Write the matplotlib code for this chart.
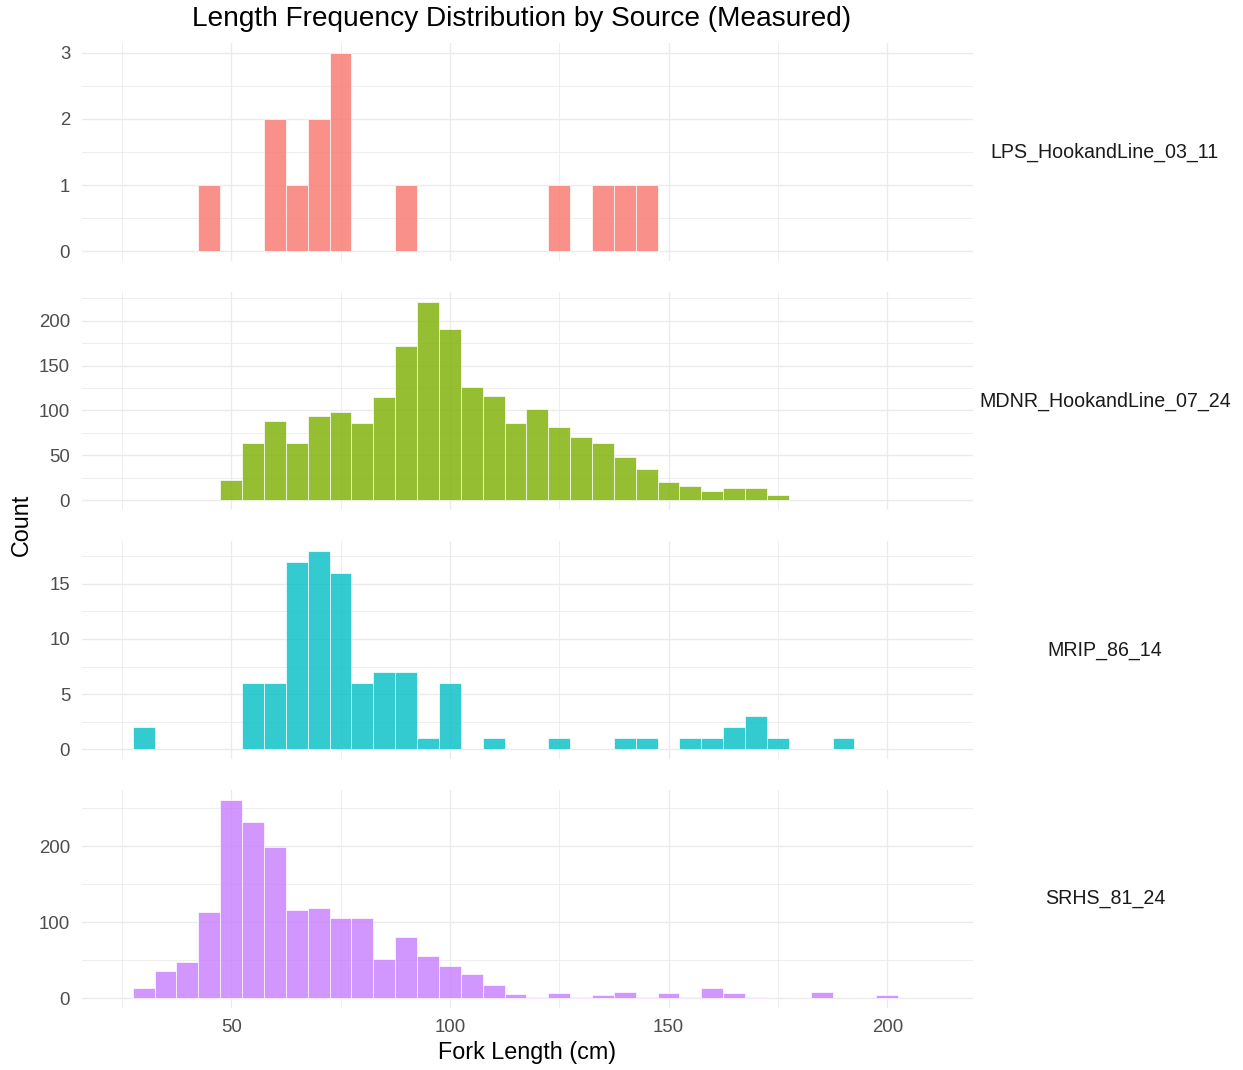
import numpy as np
import matplotlib
matplotlib.use("Agg")
import matplotlib.pyplot as plt
from matplotlib.ticker import MultipleLocator

plt.rcParams['font.family'] = ['Liberation Sans', 'DejaVu Sans']

# 5 cm length bins (bin centres) and fish counts per source
sources = ["LPS_HookandLine_03_11", "MDNR_HookandLine_07_24", "MRIP_86_14", "SRHS_81_24"]

lps_bins = [45, 60, 65, 70, 75, 90, 125, 135, 140, 145]
lps_counts = [1, 2, 1, 2, 3, 1, 1, 1, 1, 1]

mdnr_bins = [50, 55, 60, 65, 70, 75, 80, 85, 90, 95, 100, 105, 110, 115, 120,
             125, 130, 135, 140, 145, 150, 155, 160, 165, 170, 175]
mdnr_counts = [22, 64, 88, 64, 94, 98, 86, 115, 172, 221, 191, 126, 116, 86, 102,
               81, 70, 64, 48, 35, 20, 16, 10, 13, 13, 6]

mrip_bins = [30, 55, 60, 65, 70, 75, 80, 85, 90, 95, 100, 110, 125, 140, 145,
             155, 160, 165, 170, 175, 190]
mrip_counts = [2, 6, 6, 17, 18, 16, 6, 7, 7, 1, 6, 1, 1, 1, 1,
               1, 1, 2, 3, 1, 1]

srhs_bins = [30, 35, 40, 45, 50, 55, 60, 65, 70, 75, 80, 85, 90, 95, 100, 105,
             110, 115, 120, 125, 130, 135, 140, 145, 150, 155, 160, 165, 170,
             185, 200]
srhs_counts = [13, 36, 48, 113, 261, 232, 199, 116, 119, 106, 106, 52, 81, 55, 42, 32,
               17, 5, 2, 7, 2, 4, 8, 2, 7, 2, 13, 7, 2, 8, 4]

bins = [lps_bins, mdnr_bins, mrip_bins, srhs_bins]
counts = [lps_counts, mdnr_counts, mrip_counts, srhs_counts]
colors = ["#F8766D", "#7CAE00", "#00BFC4", "#C77CFF"]
y_major = [1, 50, 5, 100]
bin_width = 5

fig = plt.figure(figsize=(12.43, 10.70), dpi=100)
W, H = 1243, 1070
left, right = 82, 973
panel_h = 218
tops = [43, 292, 541, 790]

grid_col = "#EBEBEB"
for i, src in enumerate(sources):
    top = tops[i]
    ax = fig.add_axes([left / W, 1 - (top + panel_h) / H, (right - left) / W, panel_h / H])
    ax.bar(bins[i], counts[i], width=bin_width, color=colors[i], alpha=0.8,
           edgecolor="white", linewidth=0.6, zorder=3)

    ymax = max(counts[i])
    ax.set_ylim(-0.05 * ymax, 1.05 * ymax)
    ax.set_xlim(15.9, 219.6)

    ax.yaxis.set_major_locator(MultipleLocator(y_major[i]))
    ax.yaxis.set_minor_locator(MultipleLocator(y_major[i] / 2))
    ax.xaxis.set_major_locator(MultipleLocator(50))
    ax.xaxis.set_minor_locator(MultipleLocator(25))

    ax.grid(which="major", color=grid_col, linewidth=1.0, zorder=0)
    ax.grid(which="minor", color=grid_col, linewidth=0.6, zorder=0)
    ax.set_axisbelow(True)
    for sp in ax.spines.values():
        sp.set_visible(False)

    ax.tick_params(which="both", length=0)
    ax.tick_params(axis="y", labelsize=13.4, labelcolor="#4D4D4D", pad=8.5)
    if i == len(sources) - 1:
        ax.tick_params(axis="x", labelsize=13.4, labelcolor="#4D4D4D", pad=8)
    else:
        ax.tick_params(axis="x", labelbottom=False)

    # facet strip label on the right
    ax.text((1105 - left) / (right - left), 0.5, src, transform=ax.transAxes,
            ha="center", va="center", fontsize=14.1, color="#1A1A1A")

fig.text(522 / W, 1 - 19 / H, "Length Frequency Distribution by Source (Measured)",
         ha="center", va="center", fontsize=20.2, color="black")
fig.text(527 / W, 1 - 1053 / H, "Fork Length (cm)", ha="center", va="center",
         fontsize=16.8, color="black")
fig.text(21 / W, 1 - 525 / H, "Count", ha="center", va="center", rotation=90,
         fontsize=16.8, color="black")

fig.savefig("out.png", dpi=100, facecolor="white")
